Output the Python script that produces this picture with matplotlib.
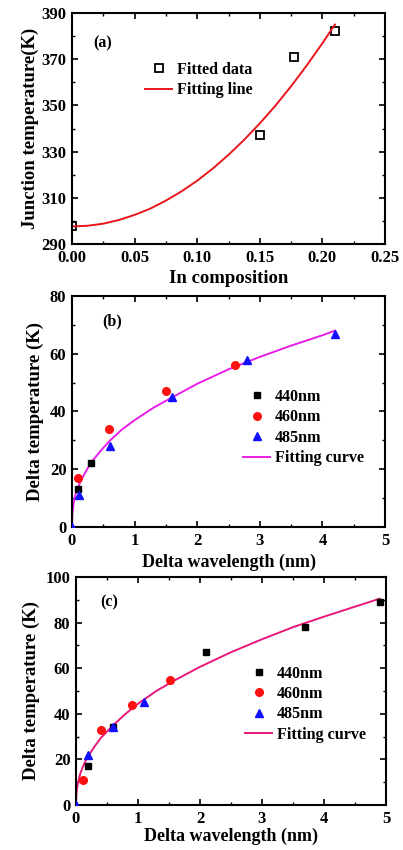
import numpy as np
import matplotlib
matplotlib.use("Agg")
from matplotlib import pyplot as plt
from matplotlib.ticker import MultipleLocator, AutoMinorLocator, FormatStrFormatter

plt.rcParams['font.family'] = ['Liberation Serif', 'DejaVu Serif']
plt.rcParams['font.weight'] = 'bold'
plt.rcParams['axes.labelweight'] = 'bold'

# (a) junction temperature vs In composition
a_x = [0.0, 0.15, 0.177, 0.21]
a_t = [298, 337, 371, 382]
a_fit_x = [0.0, 0.0125, 0.025, 0.0375, 0.05, 0.0625, 0.075, 0.0875, 0.1, 0.1125, 0.125,
           0.1375, 0.15, 0.1625, 0.175, 0.1875, 0.2, 0.21]
a_fit_t = [297.6, 297.9, 298.8, 300.4, 302.6, 305.3, 308.8, 312.8, 317.4, 322.7, 328.6,
           335.1, 342.2, 349.9, 358.3, 367.3, 376.9, 385.0]

# (b) delta temperature vs delta wavelength
b_440_x = [0.1, 0.3]
b_440_y = [13, 22]
b_460_x = [0.09, 0.59, 1.5, 2.6]
b_460_y = [17, 34, 47, 56]
b_485_x = [0.0, 0.11, 0.61, 1.6, 2.8, 4.2]
b_485_y = [0, 11, 28, 45, 58, 67]
b_fit_x = [0.0, 0.005, 0.01, 0.02, 0.03, 0.05, 0.07, 0.1, 0.15, 0.2, 0.3, 0.45, 0.6, 0.8, 1.0,
           1.3, 1.6, 2.0, 2.5, 3.0, 3.5, 4.0, 4.2]
b_fit_y = [0.0, 4.0, 5.3, 7.1, 8.8, 10.7, 12.3, 14.0, 16.4, 18.4, 22.2, 26.2, 29.8, 33.8, 37.0,
           41.3, 44.9, 49.6, 54.6, 58.9, 62.8, 66.4, 68.0]

# (c) delta temperature vs delta wavelength
c_440_x = [0.2, 0.6, 2.1, 3.7, 4.9]
c_440_y = [17, 34, 67, 78, 89]
c_460_x = [0.11, 0.41, 0.9, 1.51]
c_460_y = [11, 33, 44, 55]
c_485_x = [0.0, 0.2, 0.6, 1.1]
c_485_y = [0, 22, 34, 45]
c_fit_x = [0.0, 0.005, 0.01, 0.02, 0.03, 0.05, 0.07, 0.1, 0.15, 0.2, 0.3, 0.4, 0.6, 0.8, 1.0,
           1.3, 1.6, 2.0, 2.5, 3.0, 3.5, 4.0, 4.5, 4.9]
c_fit_y = [0.0, 4.2, 5.7, 7.8, 9.3, 11.8, 13.8, 16.0, 19.2, 21.6, 25.7, 29.4, 35.0, 40.0, 44.4,
           50.1, 54.8, 60.6, 67.0, 72.7, 78.0, 82.6, 87.0, 90.5]

a_yticks = [290, 310, 330, 350, 370, 390]


def style_axes(ax):
    for s in ax.spines.values():
        s.set_linewidth(1.5)
    ax.tick_params(which='both', direction='in', top=True, right=True, labelsize=12)
    ax.tick_params(which='major', length=4, width=1.2, pad=4)
    ax.tick_params(which='minor', length=2.5, width=1.0)
    ax.xaxis.set_minor_locator(AutoMinorLocator(2))
    ax.yaxis.set_minor_locator(AutoMinorLocator(2))
    for lab in ax.get_xticklabels() + ax.get_yticklabels():
        lab.set_fontweight('bold')


leg_kw = dict(frameon=False, fontsize=11.6, handlelength=1.7, handletextpad=0.3,
              borderaxespad=0, borderpad=0)

fig = plt.figure(figsize=(4.03, 8.5), dpi=100)

# panel (a)
ax1 = fig.add_axes([72 / 403, 1 - 244 / 850, 313 / 403, 231 / 850])
ax1.plot(a_x, a_t, 's', mfc='white', mec='black', mew=1.3, ms=6, ls='none', label='Fitted data')
ax1.plot(a_fit_x, a_fit_t, '-', color='#e8161b', lw=1.4, label='Fitting line')
ax1.set_xlim(0, 0.25)
ax1.set_ylim(290, 390)
ax1.xaxis.set_major_locator(MultipleLocator(0.05))
ax1.set_yticks(a_yticks)
ax1.xaxis.set_major_formatter(FormatStrFormatter('%.2f'))
ax1.set_xlabel('In composition', fontsize=13.5, labelpad=3)
ax1.set_ylabel('Junction temperature(K)', fontsize=13.5, labelpad=2)
ax1.text(0.067, 0.87, '(a)', transform=ax1.transAxes, fontsize=11.5, fontweight='bold',
         va='center')
ax1.legend(loc='upper left', bbox_to_anchor=(0.233, 0.79), labelspacing=0.3, **leg_kw)
style_axes(ax1)

# panel (b)
ax2 = fig.add_axes([72 / 403, 1 - 527 / 850, 313 / 403, 231 / 850])
ax2.plot(b_fit_x, b_fit_y, '-', color='#e81ee8', lw=1.4, label='Fitting curve', zorder=2)
ax2.plot(b_440_x, b_440_y, 's', color='black', ms=5, ls='none', label='440nm', zorder=3)
ax2.plot(b_460_x, b_460_y, 'o', color='#ff1010', ms=5.5, ls='none', label='460nm', zorder=3)
ax2.plot(b_485_x, b_485_y, '^', color='#1010ff', ms=6, ls='none', label='485nm', zorder=3)
ax2.set_xlim(0, 5)
ax2.set_ylim(0, 80)
ax2.xaxis.set_major_locator(MultipleLocator(1))
ax2.yaxis.set_major_locator(MultipleLocator(20))
ax2.set_xlabel('Delta wavelength (nm)', fontsize=13, labelpad=4)
ax2.set_ylabel('Delta temperature (K)', fontsize=13.5, labelpad=4)
ax2.text(0.096, 0.89, '(b)', transform=ax2.transAxes, fontsize=11.5, fontweight='bold',
         va='center')
h, l = ax2.get_legend_handles_labels()
ax2.legend(h[1:] + h[:1], l[1:] + l[:1], loc='upper left', bbox_to_anchor=(0.546, 0.597),
           labelspacing=0.27, **leg_kw)
style_axes(ax2)

# panel (c)
ax3 = fig.add_axes([76 / 403, 1 - 805 / 850, 310 / 403, 228 / 850])
ax3.plot(c_fit_x, c_fit_y, '-', color='#e8187c', lw=1.4, label='Fitting curve', zorder=2)
ax3.plot(c_440_x, c_440_y, 's', color='black', ms=5, ls='none', label='440nm', zorder=3)
ax3.plot(c_460_x, c_460_y, 'o', color='#ff1010', ms=5.5, ls='none', label='460nm', zorder=3)
ax3.plot(c_485_x, c_485_y, '^', color='#1010ff', ms=6, ls='none', label='485nm', zorder=4)
ax3.set_xlim(0, 5)
ax3.set_ylim(0, 100)
ax3.xaxis.set_major_locator(MultipleLocator(1))
ax3.yaxis.set_major_locator(MultipleLocator(20))
ax3.set_xlabel('Delta wavelength (nm)', fontsize=13, labelpad=1)
ax3.set_ylabel('Delta temperature (K)', fontsize=13.5, labelpad=4)
ax3.text(0.077, 0.89, '(c)', transform=ax3.transAxes, fontsize=11.5, fontweight='bold',
         va='center')
h, l = ax3.get_legend_handles_labels()
ax3.legend(h[1:] + h[:1], l[1:] + l[:1], loc='upper left', bbox_to_anchor=(0.545, 0.611),
           labelspacing=0.27, **leg_kw)
style_axes(ax3)

fig.savefig('out.png', dpi=100)
